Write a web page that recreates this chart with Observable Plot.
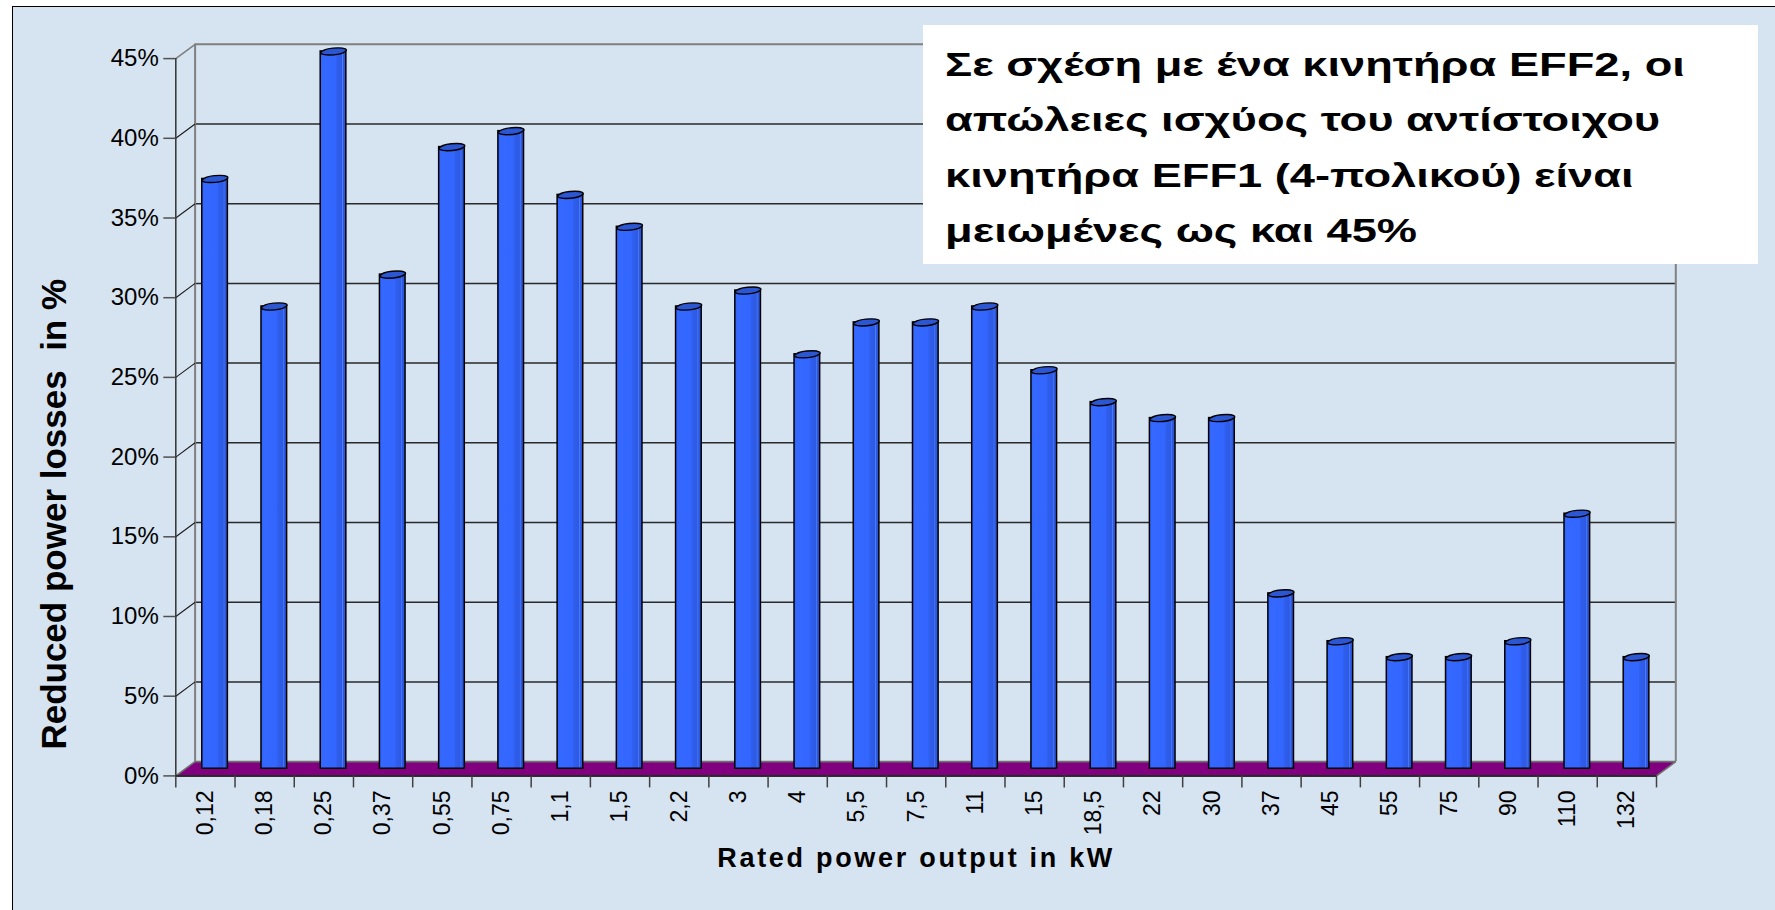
<!DOCTYPE html>
<html>
<head>
<meta charset="utf-8">
<script src="https://cdn.jsdelivr.net/npm/d3@7"></script>
<script src="https://cdn.jsdelivr.net/npm/@observablehq/plot@0.6"></script>
<style>
  html, body { margin: 0; padding: 0; background: #ffffff; }
  #wrap { position: relative; width: 1775px; height: 910px; overflow: hidden; font-family: "Liberation Sans", Arial, sans-serif; }
  #frame { position: absolute; left: 12px; top: 6px; width: 1800px; height: 950px; border: 1.5px solid #000; background: #D6E3F0; }
  #chart { position: absolute; left: 0; top: 0; }
  #note { position: absolute; left: 923px; top: 25px; width: 835px; height: 239px; background: #ffffff; }
  #note div { position: absolute; left: 22px; top: 12px; font: bold 34px "Liberation Sans", Arial, sans-serif; line-height: 55.3px; color: #000; white-space: nowrap; transform-origin: left top; transform: scaleX(1.33); }
</style>
</head>
<body>
<div id="wrap">
  <div id="frame"></div>
  <div id="chart"></div>
  <div id="note"><div>Σε σχέση με ένα κινητήρα EFF2, οι<br>απώλειες ισχύος του αντίστοιχου<br>κινητήρα EFF1 (4-πολικού) είναι<br>μειωμένες ως και 45%</div></div>
</div>
<script>
// ---- data ----
const rated = ["0,12","0,18","0,25","0,37","0,55","0,75","1,1","1,5","2,2","3","4","5,5","7,5","11","15","18,5","22","30","37","45","55","75","90","110","132"];
const losses = [37,29,45,31,39,40,36,34,29,30,26,28,28,29,25,23,22,22,11,8,7,7,8,16,7];
const yTicks = [0, 0.05, 0.10, 0.15, 0.20, 0.25, 0.30, 0.35, 0.40, 0.45];
const xTitle = "Rated power output in kW";
const yTitle = "Reduced power losses  in %";

const data = rated.map((r, i) => ({i, rated: r, value: losses[i] / 100}));
const n = rated.length;
const bounds = d3.range(n + 1);
const centers = d3.range(n).map(i => i + 0.5);

// 3-D depth (pixels)
const DX = 19.3, DY = 14.3;

function depthCurve(mode) {
  return (context) => {
    let pts = [];
    return {
      areaStart() {}, areaEnd() {},
      lineStart() { pts = []; },
      point(x, y) { pts.push([+x, +y]); },
      lineEnd() {
        const a = pts[0], b = pts[pts.length - 1];
        if (mode === "plane") {
          context.moveTo(a[0], a[1]);
          context.lineTo(b[0], b[1]);
          context.lineTo(b[0] + DX, b[1] - DY);
          context.lineTo(a[0] + DX, a[1] - DY);
          context.closePath();
        } else {
          context.moveTo(a[0], a[1]);
          context.lineTo(a[0] + DX, a[1] - DY);
        }
      }
    };
  };
}

// skewed ellipse (top of a cylinder seen in oblique projection)
const S = DX / DY, K = 0.5523;
const capSymbol = {
  draw(ctx, size) {
    const rx = Math.sqrt(size / Math.PI), ry = rx * 0.304;
    const T = (u, v) => [rx * u - S * ry * v, ry * v];
    const segs = [
      [[1, K], [K, 1], [0, 1]],
      [[-K, 1], [-1, K], [-1, 0]],
      [[-1, -K], [-K, -1], [0, -1]],
      [[K, -1], [1, -K], [1, 0]]
    ];
    const p0 = T(1, 0);
    ctx.moveTo(p0[0], p0[1]);
    for (const [c1, c2, e] of segs) {
      const a = T(...c1), b = T(...c2), c = T(...e);
      ctx.bezierCurveTo(a[0], a[1], b[0], b[1], c[0], c[1]);
    }
    ctx.closePath();
  }
};

const defs = () => {
  const d = d3.create("svg:defs");
  const g = d.append("linearGradient").attr("id", "cyl").attr("x1", 0).attr("x2", 1).attr("y1", 0).attr("y2", 0);
  [[0, "#3264F8"], [0.12, "#3468FF"], [0.6, "#3366FF"], [0.66, "#2F5EEC"], [0.84, "#2D5AE4"], [0.87, "#4C7CF6"], [0.9, "#2D59E0"], [1, "#2A54D6"]]
    .forEach(([o, c]) => g.append("stop").attr("offset", o).attr("stop-color", c));
  return d.node();
};

const W = 1775, H = 910;
const mL = 175.3, mR = 119, mT = 58.1, mB = 134.6;

const chart = Plot.plot({
  width: W, height: H,
  marginLeft: mL, marginRight: mR, marginTop: mT, marginBottom: mB,
  style: {background: "transparent", fontFamily: "'Liberation Sans', Arial, sans-serif", overflow: "visible"},
  x: {domain: [0, n], axis: null},
  y: {domain: [0, 0.45], axis: null},
  marks: [
    defs,
    // back wall grid
    Plot.ruleY(yTicks.filter(t => t > 0 && t < 0.45), {x1: 0, x2: n, dx: DX, dy: -DY, stroke: "#2a2a2a", strokeWidth: 1.5}),
    Plot.ruleY([0.45], {x1: 0, x2: n, dx: DX, dy: -DY, stroke: "#808080", strokeWidth: 2}),
    Plot.ruleX([0, n], {y1: 0, y2: 0.45, dx: DX, dy: -DY, stroke: "#808080", strokeWidth: 2}),
    // side wall edges
    Plot.link(yTicks.filter(t => t > 0 && t < 0.45), {x1: 0, y1: d => d, x2: 0, y2: d => d, curve: depthCurve("edge"), stroke: "#1a1a1a", strokeWidth: 1.1}),
    Plot.link([0.45], {x1: 0, y1: d => d, x2: 0, y2: d => d, curve: depthCurve("edge"), stroke: "#808080", strokeWidth: 1.6}),
    // floor
    Plot.link([0], {x1: 0, y1: 0, x2: n, y2: 0, curve: depthCurve("plane"), fill: "#800080", stroke: "#707070", strokeWidth: 1.6, strokeLinejoin: "miter"}),
    // front axes
    Plot.ruleX([0], {y1: 0, y2: 0.45, stroke: "#333", strokeWidth: 1.5}),
    Plot.ruleY([0], {x1: 0, x2: n, stroke: "#111", strokeWidth: 1.5}),
    Plot.axisY(yTicks, {anchor: "left", tickSize: 12, tickPadding: 5, tickFormat: d3.format(".0%"), fontSize: 24, stroke: "#505050", strokeWidth: 1.5, color: "#000", label: null}),
    Plot.axisX(bounds, {anchor: "bottom", tickSize: 12, tickFormat: () => "", stroke: "#404040", strokeWidth: 1.5, label: null}),
    Plot.axisX(centers, {anchor: "bottom", tickSize: 0, tickPadding: 14.6, tickRotate: -90, tickFormat: d => rated[Math.floor(d)], fontSize: 23, label: null}),
    // cylinders
    Plot.rectY(data, {x1: "i", x2: d => d.i + 1, y1: 0, y2: "value", insetLeft: 16.8, insetRight: 16.8, dx: DX / 2, dy: -DY / 2, fill: "url(#cyl)", stroke: "#000", strokeWidth: 1.5}),
    Plot.dot(data, {x: d => d.i + 0.5, y: "value", r: 11.84, symbol: capSymbol, dx: DX / 2, dy: -DY / 2, fill: "#2C56D2", stroke: "#000", strokeWidth: 1.4}),
    // titles
    Plot.text([xTitle], {frameAnchor: "bottom", dy: 82, textAnchor: "middle", lineAnchor: "middle", fontSize: 27, fontWeight: "bold", fill: "#000"}),
    Plot.text([yTitle], {frameAnchor: "left", rotate: -90, dx: -121, dy: 97, textAnchor: "middle", lineAnchor: "middle", fontSize: 35, fontWeight: "bold", fill: "#000"})
  ]
});
// wider tracking of the x-axis title, as in the original
d3.select(chart).selectAll("text").filter(function () { return this.textContent === xTitle; })
  .style("letter-spacing", "2.7px");
document.getElementById("chart").appendChild(chart);
</script>
</body>
</html>
